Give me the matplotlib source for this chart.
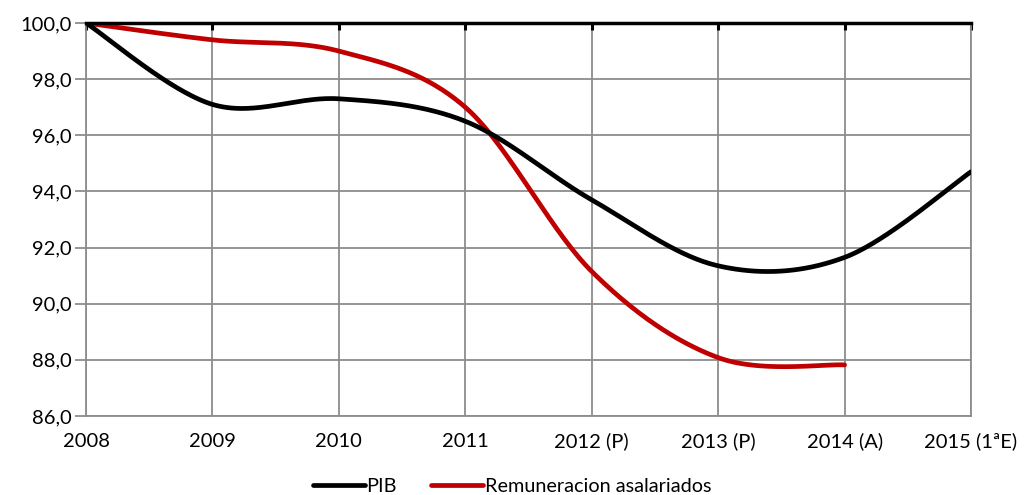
import numpy as np
import matplotlib
matplotlib.use("Agg")
import matplotlib.pyplot as plt
from matplotlib.ticker import FuncFormatter

categories = ["2008", "2009", "2010", "2011", "2012 (P)", "2013 (P)", "2014 (A)", "2015 (1ªE)"]
pib = [100.0, 97.1, 97.3, 96.5, 93.7, 91.35, 91.65, 94.7]
remuneracion = [100.0, 99.4, 99.0, 97.0, 91.15, 88.08, 87.82]

plt.rcParams['font.family'] = ['Lato', 'DejaVu Sans']


def smooth(xs, ys, n=60):
    xs = np.asarray(xs, float)
    ys = np.asarray(ys, float)
    P = np.column_stack([xs, ys])
    out = [P[0]]
    for i in range(len(P) - 1):
        p0 = P[i - 1] if i > 0 else P[i]
        p1 = P[i]
        p2 = P[i + 1]
        p3 = P[i + 2] if i + 2 < len(P) else P[i + 1]
        c1 = p1 + (p2 - p0) / 6.0
        c2 = p2 - (p3 - p1) / 6.0
        t = np.linspace(0, 1, n)[1:, None]
        seg = ((1 - t) ** 3) * p1 + 3 * ((1 - t) ** 2) * t * c1 + 3 * (1 - t) * t ** 2 * c2 + t ** 3 * p2
        out.extend(seg)
    out = np.array(out)
    return out[:, 0], out[:, 1]


fig = plt.figure(figsize=(10.24, 4.95), dpi=100)
ax = fig.add_axes([86 / 1024, 1 - 416 / 495, (971 - 86) / 1024, (416 - 23) / 495])

x1 = np.arange(len(pib))
x2 = np.arange(len(remuneracion))
sx, sy = smooth(x1, pib)
rx, ry = smooth(x2, remuneracion)
ax.plot(sx, sy, color='black', lw=3.4, solid_capstyle='round', label='PIB', zorder=4)
ax.plot(rx, ry, color='#C00000', lw=3.4, solid_capstyle='round', label='Remuneracion asalariados', zorder=3)

ax.set_xlim(0, len(categories) - 1)
ax.set_ylim(86, 100)
ax.set_xticks(np.arange(len(categories)))
ax.set_xticklabels(categories)
ax.set_yticks(np.arange(86, 100.1, 2))
ax.yaxis.set_major_formatter(FuncFormatter(lambda v, p: f"{v:.1f}".replace('.', ',')))

ax.grid(True, color='#8c8c8c', lw=1.3)
ax.set_axisbelow(True)
for s in ['left', 'right', 'bottom']:
    ax.spines[s].set_color('#8c8c8c')
    ax.spines[s].set_linewidth(1.3)
ax.spines['top'].set_color('black')
ax.spines['top'].set_linewidth(2.5)
ax.spines['top'].set_zorder(5)

ax.tick_params(axis='x', bottom=False, top=True, labelbottom=True, labeltop=False,
               direction='in', length=5, width=2.2, color='black', pad=12, labelsize=14.5)
ax.tick_params(axis='y', direction='out', length=8, width=1.3, color='#8c8c8c', pad=2, labelsize=14.5)

leg = fig.legend(loc='lower center', bbox_to_anchor=(0.5, -0.036), ncol=2, frameon=False,
                 fontsize=14.3, handlelength=2.6, handletextpad=0.1, columnspacing=1.7)

fig.savefig('out.png', dpi=100)
